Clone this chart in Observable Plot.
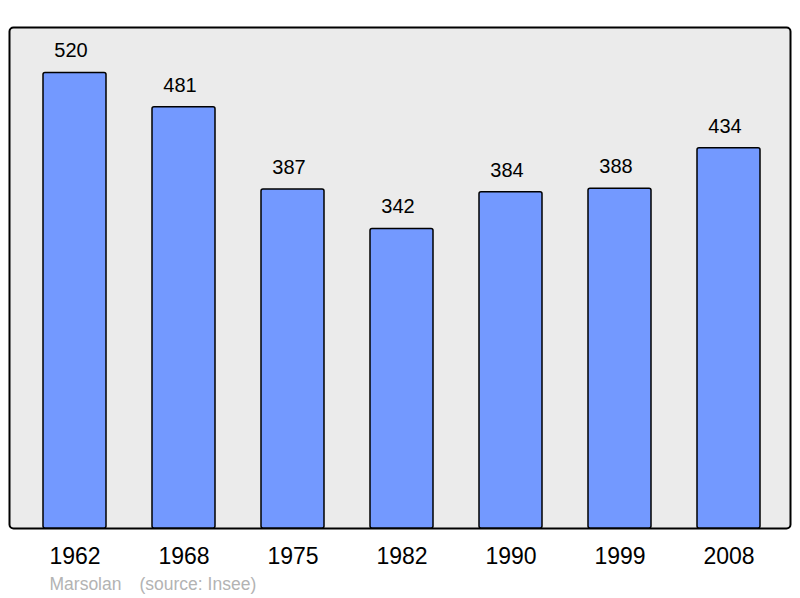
<!DOCTYPE html>
<html>
<head>
<meta charset="utf-8">
<script src="https://cdn.jsdelivr.net/npm/d3@7"></script>
<script src="https://cdn.jsdelivr.net/npm/@observablehq/plot@0.6"></script>
<style>
  html, body { margin: 0; padding: 0; background: #ffffff; }
  #chart svg { display: block; }
</style>
</head>
<body>
<div id="chart"></div>
<script>
const years = ["1962", "1968", "1975", "1982", "1990", "1999", "2008"];
const population = [520, 481, 387, 342, 384, 388, 434];
const commune = "Marsolan";
const source = "(source: Insee)";

const data = years.map((year, i) => ({year, value: population[i]}));
const font = "'Liberation Sans', Arial, Helvetica, sans-serif";

const chart = Plot.plot({
  width: 800,
  height: 598,
  marginLeft: 9,
  marginRight: 10,
  marginTop: 27,
  marginBottom: 70,
  style: {fontFamily: font, background: "#ffffff"},
  x: {domain: years, paddingInner: 0.424, paddingOuter: 0.212, insetLeft: 9, insetRight: 6, label: null},
  y: {domain: [0, 572], axis: null},
  marks: [
    Plot.frame({fill: "#ebebeb", stroke: "#000000", strokeWidth: 2, rx: 4}),
    Plot.barY(data, {x: "year", y: "value", fill: "#7399ff", stroke: "#000000", strokeWidth: 1.5, rx: 2}),
    Plot.text(data, {x: "year", y: "value", text: d => String(d.value), dy: -22, dx: -4, fontSize: 20, fill: "#000000"}),
    Plot.axisX({tickSize: 0, tickPadding: 19, fontSize: 23, fill: "#000000", stroke: null, label: null}),
    Plot.text([commune], {frameAnchor: "bottom-left", lineAnchor: "middle", text: d => d, textAnchor: "start", dx: 40, dy: 56, fontSize: 17.5, fill: "#b3b3b3"}),
    Plot.text([source], {frameAnchor: "bottom-left", lineAnchor: "middle", text: d => d, textAnchor: "start", dx: 130, dy: 56, fontSize: 17.5, fill: "#b3b3b3"})
  ]
});
document.getElementById("chart").appendChild(chart);
</script>
</body>
</html>
